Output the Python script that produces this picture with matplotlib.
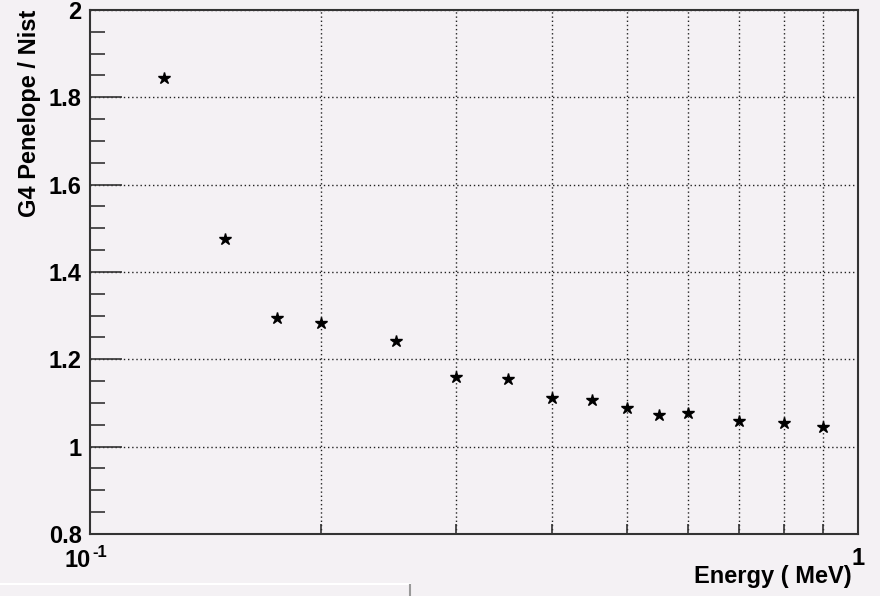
import numpy as np
import matplotlib
matplotlib.use('Agg')
import matplotlib.pyplot as plt
from matplotlib.ticker import FixedLocator, NullFormatter, NullLocator

plt.rcParams['font.family'] = ['Liberation Sans', 'DejaVu Sans']
plt.rcParams['font.weight'] = 'bold'

energy = [0.125, 0.15, 0.175, 0.2, 0.25, 0.3, 0.35, 0.4, 0.45, 0.5, 0.55, 0.6, 0.7, 0.8, 0.9]
ratio = [1.844, 1.476, 1.295, 1.283, 1.242, 1.160, 1.155, 1.112, 1.107, 1.089, 1.073, 1.077, 1.059, 1.054, 1.045]
yticks = [0.8, 1.0, 1.2, 1.4, 1.6, 1.8, 2.0]
ylabels = ['0.8', '1', '1.2', '1.4', '1.6', '1.8', '2']
xgrid = [0.2, 0.3, 0.4, 0.5, 0.6, 0.7, 0.8, 0.9]

bg = '#f4f1f4'
W, H = 880, 596
fig = plt.figure(figsize=(8.8, 5.96), dpi=100, facecolor=bg)
ax = fig.add_axes([90/W, 62/H, 768/W, 524/H], facecolor=bg)

ax.plot(energy, ratio, linestyle='none', marker='*', markersize=9, color='black', zorder=3)

ax.set_xscale('log')
ax.set_xlim(0.1, 1.0)
ax.set_ylim(0.8, 2.0)

ax.xaxis.set_major_locator(FixedLocator(xgrid))
ax.xaxis.set_major_formatter(NullFormatter())
ax.xaxis.set_minor_locator(NullLocator())
ax.xaxis.set_minor_formatter(NullFormatter())
ax.set_yticks(yticks)
ax.set_yticklabels(ylabels)
ax.yaxis.set_minor_locator(FixedLocator(np.arange(0.8, 2.001, 0.05)))

ax.tick_params(axis='x', which='major', direction='in', length=7, width=1.2, color='#333333')
ax.tick_params(axis='y', which='major', direction='in', length=23, width=1.2, color='#333333',
               labelsize=17, pad=6)
ax.tick_params(axis='y', which='minor', direction='in', length=11, width=1.2, color='#333333')

ax.grid(True, which='major', linestyle=(0, (1, 2)), color='#222222', linewidth=1.0)
for s in ax.spines.values():
    s.set_color('#333333')
    s.set_linewidth(1.5)

# x labels, ROOT style: only the decade ends
fig.text(91/W, 1 - 567/H, '10', ha='right', va='baseline', fontsize=17, fontweight='bold')
fig.text(92/W, 1 - 545/H, '-1', ha='left', va='top', fontsize=12, fontweight='bold')
fig.text(858/W, 1 - 565/H, '1', ha='center', va='baseline', fontsize=17, fontweight='bold')
fig.text(852/W, 1 - 583/H, 'Energy ( MeV)', ha='right', va='baseline', fontsize=17, fontweight='bold')

fig.text(30/W, 1 - 10/H, 'G4 Penelope / Nist', rotation=90, ha='center', va='top',
         fontsize=17, fontweight='bold')

# window edge at the bottom
fig.add_artist(plt.Line2D([0, 410/W], [1 - 584/H, 1 - 584/H], color='white', linewidth=1.5))
fig.add_artist(plt.Line2D([410/W, 410/W], [0, 1 - 585/H], color='#999999', linewidth=1.5))

fig.savefig('out.png', dpi=100, facecolor=bg)
